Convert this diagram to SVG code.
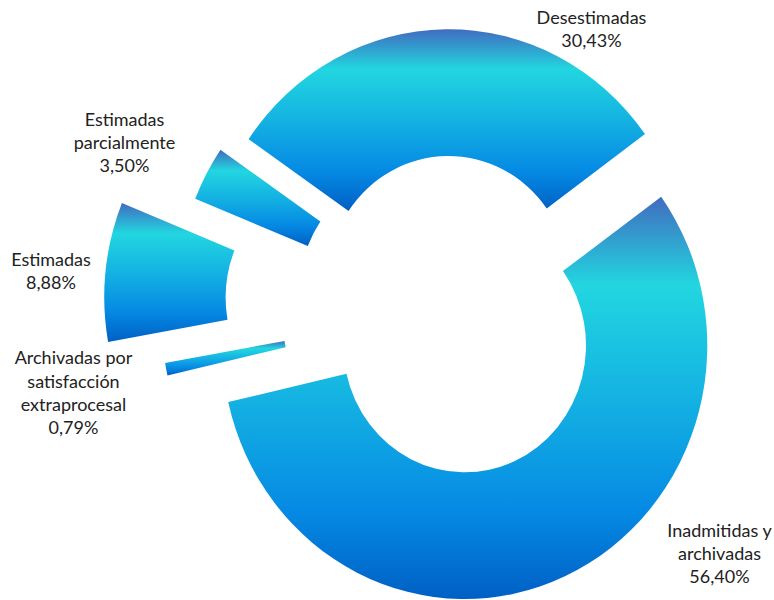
<svg xmlns="http://www.w3.org/2000/svg" width="774" height="600" viewBox="0 0 774 600">
<defs>
<linearGradient id="g" x1="0" y1="0" x2="0" y2="1">
<stop offset="0" stop-color="#416cbf"/>
<stop offset="0.22" stop-color="#22d6e0"/>
<stop offset="0.5" stop-color="#14b2e2"/>
<stop offset="0.78" stop-color="#058ae4"/>
<stop offset="1" stop-color="#0060c4"/>
</linearGradient>
<style>
.s{fill:url(#g);}
.t{font-family:Lato,"Liberation Sans",sans-serif;font-size:18px;fill:#222;text-anchor:middle;}
</style>
</defs>
<rect width="774" height="600" fill="#fff"/>
<g id="desestimadas">
<path class="s" d="M248.61,139.14 A242.6,253.5 0 0 1 644.98,134.10 L546.74,208.42 A121.3,126.8 0 0 0 348.56,210.94 Z"/>
<text class="t" x="591.5" y="23.5">Desestimadas</text>
<text class="t" x="591.5" y="47">30,43%</text>
</g>
<g id="inadmitidas">
<path class="s" d="M661.18,196.8 A242.6,253.5 0 1 1 228.21,402.05 L346.46,373.79 A121.3,126.8 0 1 0 562.94,271.12 Z"/>
<text class="t" x="719.5" y="537">Inadmitidas y</text>
<text class="t" x="719.5" y="560">archivadas</text>
<text class="t" x="719.5" y="582.5">56,40%</text>
</g>
<g id="archivadas">
<path class="s" d="M167.47,375.39 A242.6,253.5 0 0 1 165.07,363.03 L284.52,340.94 A121.3,126.8 0 0 0 285.72,347.13 Z"/>
<text class="t" x="73.5" y="363.5">Archivadas por</text>
<text class="t" x="73.5" y="387.5">satisfacción</text>
<text class="t" x="73.5" y="411">extraprocesal</text>
<text class="t" x="73.5" y="434">0,79%</text>
</g>
<g id="estimadas">
<path class="s" d="M108.06,341.93 A242.6,253.5 0 0 1 121.90,203.06 L234.43,250.38 A121.3,126.8 0 0 0 227.51,319.84 Z"/>
<text class="t" x="51" y="265.5">Estimadas</text>
<text class="t" x="51" y="289">8,88%</text>
</g>
<g id="parcialmente">
<path class="s" d="M195.25,198.72 A242.6,253.5 0 0 1 220.45,149.68 L320.36,221.53 A121.3,126.8 0 0 0 307.78,246.04 Z"/>
<text class="t" x="124.5" y="126">Estimadas</text>
<text class="t" x="124.5" y="149">parcialmente</text>
<text class="t" x="124.5" y="172">3,50%</text>
</g>
<g id="connectors"/>
</svg>
